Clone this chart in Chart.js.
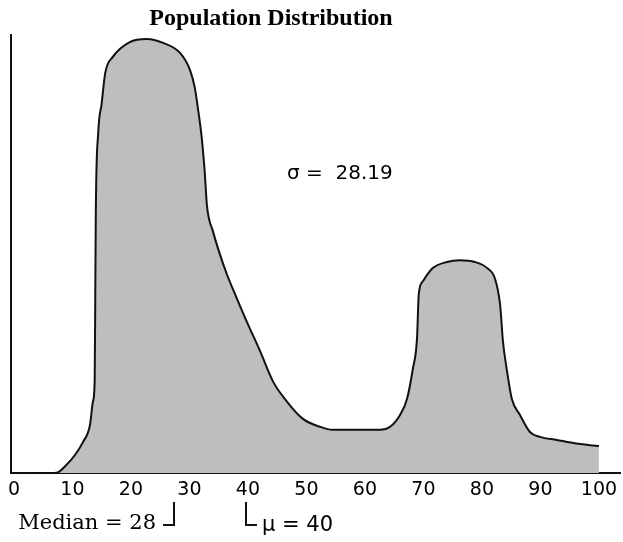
<!DOCTYPE html>
<html>
<head>
<meta charset="utf-8">
<title>Population Distribution</title>
<script src="https://cdn.jsdelivr.net/npm/chart.js@4.4.1/dist/chart.umd.min.js"></script>
<style>
  html, body { margin: 0; padding: 0; background: #fff; }
</style>
</head>
<body>
<canvas id="distChart" width="623" height="542"></canvas>
<script>
// Datos de la curva
const chartTitle = "Population Distribution";
const xValues = [4.1, 6.2, 7.5, 8.9, 10.4, 11.8, 13.0, 13.5, 13.8, 13.9, 14.0, 14.4, 15.0, 15.6, 16.9,
  19.8, 22.7, 25.5, 28.4, 30.1, 30.9, 31.5, 32.1, 32.6, 33.0, 34.0, 35.2, 36.4, 38.1, 39.8,
  42.1, 44.3, 46.7, 49.4, 52.3, 54.5, 62.6, 64.3, 66.0, 67.2, 68.2, 68.9, 69.2, 69.9, 71.6,
  74.0, 76.2, 78.8, 80.9, 82.2, 83.1, 83.6, 84.3, 85.1, 86.5, 88.2, 89.9, 92.8, 95.6, 98.5, 100];
const yValues = [0, 0, 0.2, 1.8, 4.1, 7.1, 11.0, 16.3, 20.9, 39.2, 59.9, 77.5, 84.4, 91.3, 95.0,
  98.4, 99.1, 98.2, 95.9, 92.0, 88.1, 82.8, 76.6, 69.0, 61.0, 55.3, 50.0, 45.4, 39.9, 34.6,
  27.8, 20.9, 16.3, 12.4, 10.6, 9.9, 9.9, 10.6, 13.3, 17.0, 23.9, 30.7, 40.8, 43.8, 46.8,
  48.2, 48.6, 48.2, 46.8, 44.5, 38.5, 30.0, 23.2, 17.0, 13.3, 9.4, 8.3, 7.6, 6.9, 6.4, 6.2];
const xTicks = [0, 10, 20, 30, 40, 50, 60, 70, 80, 90, 100];
const sigmaLabel = "σ =  28.19";
const medianValue = 28;
const meanValue = 40;
const medianLabel = "Median = " + medianValue;
const meanLabel = "μ = " + meanValue;

const points = xValues.map((x, i) => ({ x: x, y: yValues[i] }));

// Textos: titulo, sigma y marcas de mediana / media
const annotations = {
    id: 'annotations',
    afterDraw(chart) {
        const ctx = chart.ctx;
        const xs = chart.scales.x;
        ctx.save();
        ctx.fillStyle = '#000';
        ctx.strokeStyle = '#111';
        ctx.lineWidth = 2;

        ctx.font = 'bold 24px "Liberation Serif"';
        ctx.textAlign = 'center';
        ctx.textBaseline = 'middle';
        ctx.fillText(chartTitle, 271, 19);

        ctx.font = '20px "DejaVu Sans"';
        ctx.textAlign = 'left';
        ctx.fillText(sigmaLabel, 287, 174);

        const mx = Math.round(xs.getPixelForValue(medianValue)) - 4;
        ctx.font = '21px "DejaVu Serif"';
        ctx.textAlign = 'right';
        ctx.fillText(medianLabel, mx - 18, 524);
        ctx.beginPath();
        ctx.moveTo(mx, 502);
        ctx.lineTo(mx, 525);
        ctx.lineTo(mx - 11, 525);
        ctx.stroke();

        const ux = Math.round(xs.getPixelForValue(meanValue)) - 2;
        ctx.beginPath();
        ctx.moveTo(ux, 502);
        ctx.lineTo(ux, 525);
        ctx.lineTo(ux + 11, 525);
        ctx.stroke();
        ctx.font = '21px "DejaVu Sans"';
        ctx.textAlign = 'left';
        ctx.fillText(meanLabel, ux + 16, 526);
        ctx.restore();
    }
};

new Chart(document.getElementById('distChart'), {
    type: 'line',
    data: {
        datasets: [{
            data: points,
            borderColor: '#111',
            backgroundColor: '#bebebe',
            borderWidth: 2,
            pointRadius: 0,
            cubicInterpolationMode: 'monotone',
            fill: 'origin'
        }]
    },
    options: {
        responsive: false,
        animation: false,
        layout: { padding: { left: 11, right: 3, top: 35, bottom: 36 } },
        plugins: {
            legend: { display: false },
            tooltip: { enabled: false },
            title: { display: false }
        },
        scales: {
            x: {
                type: 'linear',
                min: -0.5,
                max: 103.6,
                afterBuildTicks: (scale) => { scale.ticks = xTicks.map(v => ({ value: v })); },
                grid: { display: false, drawTicks: false },
                border: { display: true, color: '#111', width: 2 },
                ticks: {
                    color: '#000',
                    font: { family: 'DejaVu Sans', size: 19 },
                    padding: 5,
                    maxRotation: 0,
                    autoSkip: false
                }
            },
            y: {
                min: 0,
                max: 100,
                grid: { display: false, drawTicks: false },
                border: { display: true, color: '#111', width: 2 },
                ticks: { display: false }
            }
        }
    },
    plugins: [annotations]
});
</script>
</body>
</html>
